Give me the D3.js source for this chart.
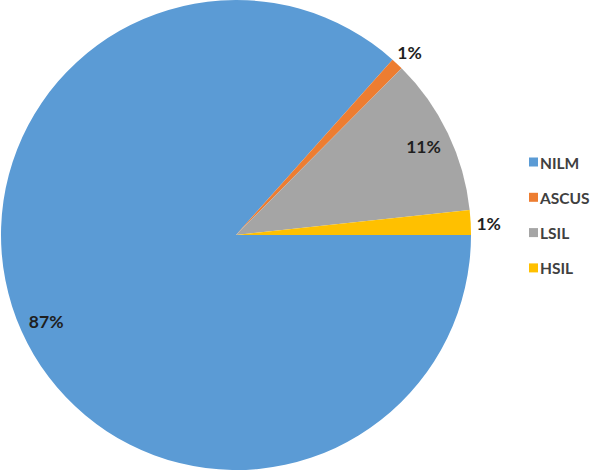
<!DOCTYPE html>
<html>
<head>
<meta charset="utf-8">
<script src="https://cdn.jsdelivr.net/npm/d3@7"></script>
<style>
  html, body { margin: 0; padding: 0; background: #fff; }
  svg { display: block; }
</style>
</head>
<body>
<svg id="chart" width="596" height="470"></svg>
<script>
const categories = ["NILM", "ASCUS", "LSIL", "HSIL"];
const values = [86.6, 0.85, 10.85, 1.7];
const labels = ["87%", "1%", "11%", "1%"];
const colors = ["#5B9BD5", "#ED7D31", "#A5A5A5", "#FFC000"];

const svg = d3.select("#chart");
const cx = 236, cy = 235, R = 235;

const data = categories.map((c, i) => ({ cat: c, value: values[i], label: labels[i], color: colors[i] }));

const pie = d3.pie()
  .sort(null)
  .value(d => d.value)
  .startAngle(Math.PI / 2)
  .endAngle(Math.PI / 2 + 2 * Math.PI);

const arcs = pie(data);
const arc = d3.arc().innerRadius(0).outerRadius(R);

const g = svg.append("g").attr("transform", `translate(${cx},${cy})`);

g.selectAll("path.slice")
  .data(arcs)
  .enter().append("path")
  .attr("class", "slice")
  .attr("d", arc)
  .attr("fill", d => d.data.color);

// labels
const inArc = d3.arc().innerRadius(R * 0.885).outerRadius(R * 0.885);
const outArc = d3.arc().innerRadius(R + 18).outerRadius(R + 18);
g.selectAll("text.lbl")
  .data(arcs)
  .enter().append("text")
  .attr("class", "lbl")
  .attr("transform", d => {
    const small = (d.endAngle - d.startAngle) < 0.2;
    const a = small ? outArc : inArc;
    const [x, y] = a.centroid(d);
    return `translate(${x},${y + 2})`;
  })
  .attr("text-anchor", "middle")
  .attr("dominant-baseline", "central")
  .attr("font-family", "Lato, 'Open Sans', sans-serif")
  .attr("font-weight", "bold")
  .attr("font-size", 17.5)
  .attr("fill", "#1f1f1f")
  .text(d => d.data.label);

// legend
const legend = svg.append("g").attr("transform", "translate(529,162)");
const rowH = 35.3;
const items = legend.selectAll("g.item")
  .data(data)
  .enter().append("g")
  .attr("class", "item")
  .attr("transform", (d, i) => `translate(0,${i * rowH})`);
items.append("rect")
  .attr("x", 0).attr("y", -4.5)
  .attr("width", 9).attr("height", 9)
  .attr("fill", d => d.color);
items.append("text")
  .attr("x", 11).attr("y", 0.5)
  .attr("dominant-baseline", "central")
  .attr("font-family", "Lato, 'Open Sans', sans-serif")
  .attr("font-weight", "bold")
  .attr("font-size", 15.5)
  .attr("fill", "#404040")
  .text(d => d.cat);
</script>
</body>
</html>
